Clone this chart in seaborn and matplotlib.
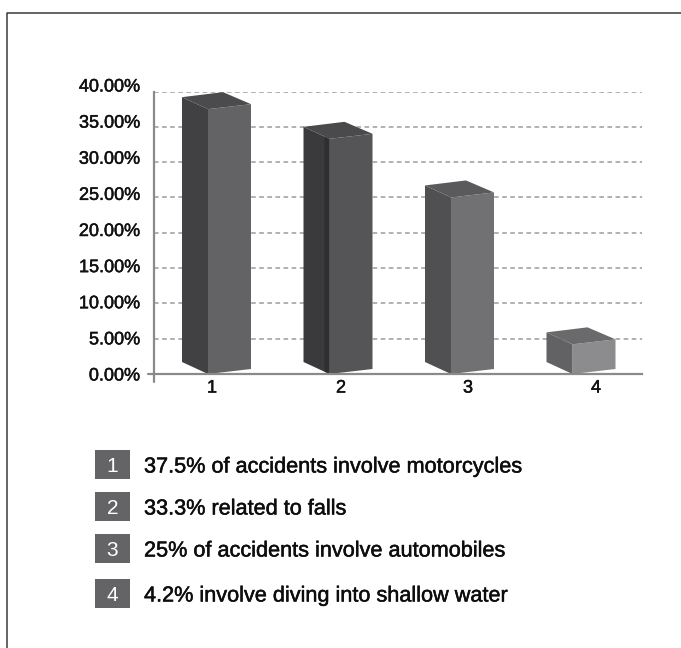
import matplotlib
matplotlib.use("Agg")
import matplotlib.pyplot as plt
import matplotlib.patheffects as pe
import pandas as pd
import seaborn as sns
from matplotlib.lines import Line2D
from matplotlib.patches import Polygon, Rectangle
from matplotlib.transforms import Affine2D, ScaledTranslation

# Causes of spinal injury accidents
categories = ["1", "2", "3", "4"]
shares = [37.5, 33.3, 25.0, 4.2]
captions = [
    "37.5% of accidents involve motorcycles",
    "33.3% related to falls",
    "25% of accidents involve automobiles",
    "4.2% involve diving into shallow water",
]
y_ticks = [0, 5, 10, 15, 20, 25, 30, 35, 40]

front_colors = ["#636365", "#555557", "#717173", "#8c8c8e"]
side_colors = ["#414143", "#3a3a3c", "#505052", "#626264"]
top_colors = ["#4b4b4d", "#4a4a4c", "#5a5a5c", "#6a6a6c"]

W, H = 681, 648
sns.set_style("white")
plt.rcParams["font.family"] = ["Liberation Sans", "DejaVu Sans"]

fig = plt.figure(figsize=(W / 100, H / 100), dpi=100, facecolor="white")
ax_left, ax_right, ax_top, ax_bottom = 154, 642, 91.5, 374
ax = fig.add_axes([ax_left / W, 1 - ax_bottom / H,
                   (ax_right - ax_left) / W, (ax_bottom - ax_top) / H])

df = pd.DataFrame({"cause": categories, "share": shares})
step_px = 121.5
bar_px = 43
sns.barplot(data=df, x="cause", y="share", ax=ax, width=bar_px / step_px,
            hue="cause", palette=front_colors, legend=False,
            saturation=1, linewidth=0, zorder=3)

first_center = 229.5
ax.set_xlim((ax_left - first_center) / step_px, (ax_right - first_center) / step_px)
ax.set_ylim(0, 40)
ax.set_xlabel("")
ax.set_ylabel("")

px_x = 1 / step_px
px_y = 40 / (ax_bottom - ax_top)

# Pseudo-3D extrusion: lean the front face, then add side and top faces
lean = 5 * px_y
side_dx, side_dy = -26 * px_x, 12 * px_y
back_dx, back_dy = 15 * px_x, 17 * px_y
for bar, side, top in zip(ax.patches, side_colors, top_colors):
    x0, w, h = bar.get_x(), bar.get_width(), bar.get_height()
    k = lean / w
    bar.set_transform(Affine2D.from_values(1, k, 0, 1, 0, -k * x0) + ax.transData)
    bar.set_clip_on(False)
    ax.add_patch(Polygon(
        [(x0, 0), (x0, h), (x0 + side_dx, h + side_dy), (x0 + side_dx, side_dy)],
        closed=True, facecolor=side, edgecolor="none", zorder=3, clip_on=False))
    ax.add_patch(Polygon(
        [(x0, h), (x0 + w, h + lean), (x0 + back_dx, h + back_dy), (x0 + side_dx, h + side_dy)],
        closed=True, facecolor=top, edgecolor="none", zorder=3, clip_on=False))

# A darker seam on the side face of the second bar
seam_bar = ax.patches[1]
seam_x, seam_h = seam_bar.get_x(), seam_bar.get_height()
ax.add_patch(Polygon(
    [(seam_x, 0), (seam_x, seam_h), (seam_x - 5 * px_x, seam_h + 2.3 * px_y), (seam_x - 5 * px_x, 2.3 * px_y)],
    closed=True, facecolor="#2e2e30", edgecolor="none", zorder=3, clip_on=False))

ax.set_yticks(y_ticks)
ax.set_yticklabels([f"{v:.2f}%" for v in y_ticks])
ax.yaxis.grid(True, color="#9b9b9b", linewidth=1.1, linestyle=(0, (3, 2.3)), zorder=1)
ax.xaxis.grid(False)
ax.set_axisbelow(True)

# Category labels sit on a slightly wider rhythm than the bars
label_px = [212, 341, 468, 596]
ax.set_xticks([(p - first_center) / step_px for p in label_px])
ax.set_xticklabels(categories)
ax.tick_params(axis="both", length=0, labelsize=13, labelcolor="#111111")
ax.tick_params(axis="x", pad=4)
ax.tick_params(axis="y", pad=10)

# Slightly heavier lettering throughout
heavier = [pe.withStroke(linewidth=0.35, foreground="#111111")]
for label in ax.get_xticklabels() + ax.get_yticklabels():
    label.set_path_effects(heavier)

# The value labels run on a slightly tighter spacing than the gridlines
for tick_value, label in zip(y_ticks, ax.get_yticklabels()):
    shift = ScaledTranslation(0, (tick_value / 40) * 6.5 / 100, fig.dpi_scale_trans)
    label.set_transform(label.get_transform() + shift)

for name in ("top", "right"):
    ax.spines[name].set_visible(False)
for name in ("left", "bottom"):
    ax.spines[name].set_color("#8a8a8a")
    ax.spines[name].set_linewidth(1.6)
    ax.spines[name].set_zorder(4)


def fx(x):
    return x / W


def fy(y):
    return 1 - y / H


# Axis overshoot past the origin
fig.add_artist(Line2D([fx(148), fx(154)], [fy(374), fy(374)], color="#8a8a8a", linewidth=1.6))
fig.add_artist(Line2D([fx(154), fx(154)], [fy(374), fy(382)], color="#8a8a8a", linewidth=1.6))

# Panel border, open on the right and at the bottom
fig.add_artist(Line2D([fx(6.5), fx(6.5), fx(681)], [fy(648), fy(12.5), fy(12.5)],
                      color="#3a3a3a", linewidth=1.1))

# Numbered key below the chart
box_tops = [450, 492, 534, 579]
for number, caption, y_top in zip(categories, captions, box_tops):
    fig.add_artist(Rectangle((fx(95), fy(y_top + 29)), 35 / W, 29 / H,
                             facecolor="#646466", edgecolor="none"))
    fig.text(fx(112.5), fy(y_top + 14.5), number, color="white", fontsize=15,
             ha="center", va="center_baseline")
    fig.text(fx(144), fy(y_top + 14.5), caption, color="#0d0d0d", fontsize=15.6,
             ha="left", va="center_baseline",
             path_effects=[pe.withStroke(linewidth=0.35, foreground="#0d0d0d")])

fig.savefig("out.png", dpi=100, facecolor="white")
